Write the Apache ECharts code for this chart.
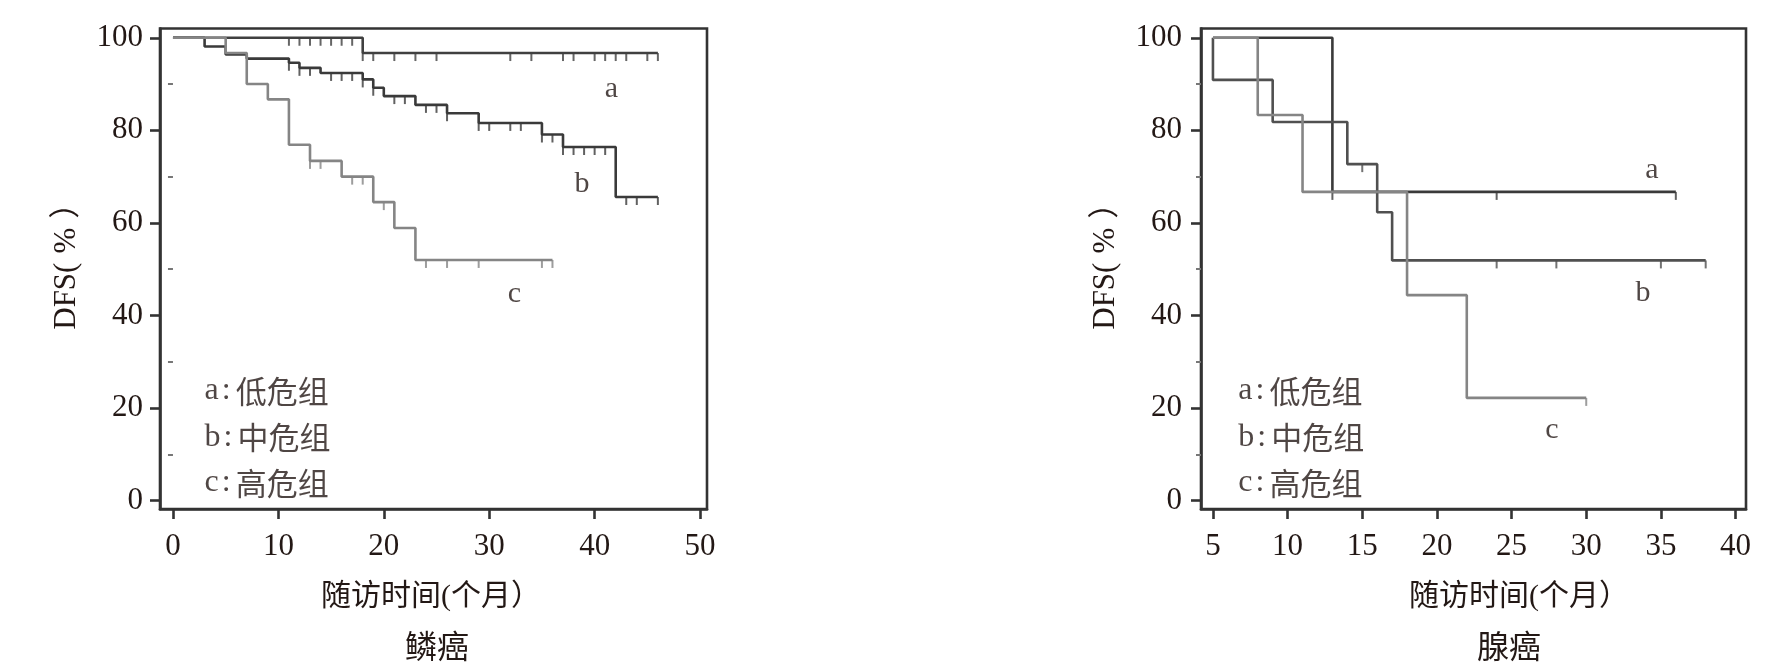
<!DOCTYPE html>
<html><head><meta charset="utf-8">
<script src="https://cdn.jsdelivr.net/npm/echarts@6/dist/echarts.min.js"></script>
<style>html,body{margin:0;padding:0;background:#fff}#c{width:1789px;height:671px}</style>
</head><body><div id="c"></div>
<script>
// ---- data ----
const xTicksSq = [0, 10, 20, 30, 40, 50];
const xTicksAd = [5, 10, 15, 20, 25, 30, 35, 40];
const yTicks = [0, 20, 40, 60, 80, 100];
const yMinor = [10, 30, 50, 70, 90];

// 鳞癌 (squamous) Kaplan-Meier steps [month, DFS%]
const sqA = [[0,100],[18,96.7],[46,96.7]];
const sqB = [[0,100],[3,98.1],[5,96.4],[7,95.5],[11,94.6],[12,93.5],[14,92.4],[18,91.0],[19,89.2],[20,87.4],[23,85.5],[26,83.7],[29,81.6],[35,79.1],[37,76.4],[42,65.6],[46,65.6]];
const sqC = [[0,100],[5,96.7],[7,90.0],[9,86.7],[11,76.9],[13,73.4],[16,70.0],[19,64.5],[21,58.9],[23,52.0],[36,52.0]];
const sqACens = [11,12,13,14,15,16,17,18,19,21,23,25,32,34,37,38,40,41,42,43,45,46];
const sqBCens = [11,12,13,15,16,17,18,19,21,22,24,25,26,29,30,32,33,35,36,37,38,39,40,41,43,44,46];
const sqCCens = [13,14,17,18,20,24,26,29,35,36];

// 腺癌 (adenocarcinoma)
const adA = [[5,100],[13,66.7],[36,66.7]];
const adB = [[5,100],[5,90.9],[9,81.8],[14,72.7],[16,62.3],[17,51.9],[38,51.9]];
const adC = [[5,100],[8,83.3],[11,66.7],[18,44.4],[22,22.2],[30,22.2]];
const adACens = [13,24,36];
const adBCens = [15,24,28,35,38];
const adCCens = [30];

const groupLetters = ['a','b','c'];
const groupNames = ['低危组','中危组','高危组'];
const sqLetterPos = [[41.6,89.0],[38.8,68.4],[32.4,44.7]];
const adLetterPos = [[34.4,71.3],[33.8,44.8],[27.7,15.2]];
const sqLegendPos = [[3.0,23.7],[3.0,13.7],[3.0,3.8]];
const adLegendPos = [[6.7,23.7],[6.7,13.7],[6.7,3.8]];

// ---- helpers ----
const FONT = "'Liberation Serif','Noto Sans CJK SC',serif";
const TXT = '#231815';
const AX = '#333333';
function stepVal(curve, t){ let v = curve[0][1]; for (const p of curve){ if (p[0] <= t) v = p[1]; } return v; }
function cens(curve, times){ return times.map(t => [t, stepVal(curve, t)]); }

function lineS(data, color, gi, z){
  return {type:'line', xAxisIndex:gi, yAxisIndex:gi*2, data, step:'end', showSymbol:false, silent:true,
    lineStyle:{color, width:2.6}, itemStyle:{color}, z};
}
function tickS(data, color, gi, z){
  return {type:'scatter', xAxisIndex:gi, yAxisIndex:gi*2, data, symbol:'rect', symbolSize:[2,8],
    symbolOffset:[0,'50%'], itemStyle:{color}, silent:true, z};
}
function letterS(pos, gi){
  return {type:'scatter', xAxisIndex:gi, yAxisIndex:gi*2, symbolSize:0, silent:true, z:10,
    data: pos.map((p,i)=>({value:p, label:{formatter:groupLetters[i]}})),
    label:{show:true, position:'inside', align:'center', verticalAlign:'middle', fontFamily:FONT, fontSize:30, color:TXT}};
}
function legendS(pos, gi){
  return {type:'scatter', xAxisIndex:gi, yAxisIndex:gi*2, symbolSize:0, silent:true, z:10,
    data: pos.map((p,i)=>({value:p, label:{formatter:'{l|'+groupLetters[i]+'}{s|:}{c|'+groupNames[i]+'}'}})),
    label:{show:true, position:'inside', align:'left', verticalAlign:'middle', color:TXT,
      rich:{
        l:{fontFamily:FONT, fontSize:32, color:TXT},
        s:{fontFamily:FONT, fontSize:32, color:TXT, padding:[0,5,0,3]},
        c:{fontFamily:"'Noto Sans CJK SC',serif", fontSize:31, color:TXT}
      }}};
}
function xAx(gi, min, max, ticks){
  return {type:'value', gridIndex:gi, min, max,
    axisLine:{show:true, onZero:false, lineStyle:{color:AX, width:2.6}},
    axisTick:{show:true, customValues:ticks, length:10, lineStyle:{color:AX, width:2.6}},
    axisLabel:{customValues:ticks, margin:22, fontFamily:FONT, fontSize:31, color:TXT},
    splitLine:{show:false}};
}
function yAx(gi, gap, margin){
  return [{type:'value', gridIndex:gi, min:-1.8, max:102, position:'left',
    axisLine:{show:true, onZero:false, lineStyle:{color:AX, width:2.6}},
    axisTick:{show:true, customValues:yTicks, length:10, lineStyle:{color:AX, width:2.6}},
    axisLabel:{customValues:yTicks, margin, fontFamily:FONT, fontSize:31, color:TXT},
    splitLine:{show:false},
    name:'{t|DFS(}{p|%}{t|）}', nameLocation:'middle', nameRotate:90, nameGap:gap,
    nameTextStyle:{color:TXT, padding:[0,0,0,20], rich:{
      t:{fontFamily:FONT, fontSize:31, color:TXT},
      p:{fontFamily:FONT, fontSize:31, color:TXT, padding:[0,9,0,9]}}}},
   {type:'value', gridIndex:gi, min:-1.8, max:102, position:'left', offset:0,
    axisLine:{show:false}, axisLabel:{show:false}, splitLine:{show:false},
    axisTick:{show:true, customValues:yMinor, length:5, lineStyle:{color:'#777', width:2}}}];
}
function txt(x, y, text, size){
  return {type:'text', x, y, silent:true, style:{text, font:size+'px '+FONT, fill:TXT, align:'center', verticalAlign:'middle'}};
}

const chart = echarts.init(document.getElementById('c'));
chart.setOption({
  backgroundColor:'#fff',
  animation:false,
  grid:[
    {left:160, top:28.5, width:547, height:480.5, show:true, borderColor:AX, borderWidth:2.6, backgroundColor:'transparent'},
    {left:1201, top:28.5, width:545, height:480.5, show:true, borderColor:AX, borderWidth:2.6, backgroundColor:'transparent'}
  ],
  xAxis:[xAx(0,-1.23,50.66,xTicksSq), xAx(1,4.2,40.7,xTicksAd)],
  yAxis:[...yAx(0,78,17), ...yAx(1,80,19)],
  graphic:[
    txt(431, 597, '随访时间(个月）', 30),
    txt(1519, 597, '随访时间(个月）', 30),
    txt(437, 650, '鳞癌', 32),
    txt(1509, 650, '腺癌', 32)
  ],
  series:[
    lineS(sqA,'#404040',0,3), lineS(sqB,'#3a3a3a',0,4), lineS(sqC,'#858585',0,5),
    tickS(cens(sqA,sqACens),'#404040',0,3), tickS(cens(sqB,sqBCens),'#3a3a3a',0,4), tickS(cens(sqC,sqCCens),'#858585',0,5),
    letterS(sqLetterPos, 0), legendS(sqLegendPos, 0),
    lineS(adA,'#3a3a3a',1,3), lineS(adB,'#505050',1,4), lineS(adC,'#858585',1,5),
    tickS(cens(adA,adACens),'#3a3a3a',1,3), tickS(cens(adB,adBCens),'#505050',1,4), tickS(cens(adC,adCCens),'#858585',1,5),
    letterS(adLetterPos, 1), legendS(adLegendPos, 1)
  ]
});
</script></body></html>
